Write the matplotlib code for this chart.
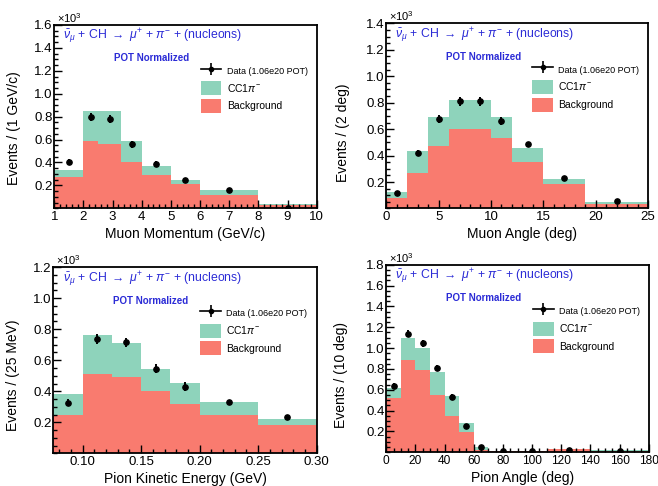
import matplotlib
matplotlib.use("Agg")
import matplotlib.pyplot as plt
import numpy as np
from matplotlib.lines import Line2D
from matplotlib.patches import Patch
from matplotlib.ticker import MultipleLocator

plt.rcParams['font.family'] = ['Liberation Sans', 'DejaVu Sans']
plt.rcParams['mathtext.fontset'] = 'custom'
plt.rcParams['mathtext.rm'] = 'Liberation Sans'
plt.rcParams['mathtext.it'] = 'Liberation Sans:italic'

# ---------------- data (in units of 10^3 events) ----------------
# Muon momentum
mu_p_edges = [1, 2, 2.5, 3.3, 4, 5, 6, 8, 10]
mu_p_bkg = [0.277, 0.586, 0.56, 0.40, 0.29, 0.215, 0.12, 0.03]
mu_p_sig = [0.060, 0.264, 0.29, 0.186, 0.08, 0.035, 0.037, 0.007]
mu_p_data_x = [1.5, 2.25, 2.9, 3.65, 4.5, 5.5, 7, 9]
mu_p_data = [0.405, 0.795, 0.78, 0.557, 0.39, 0.25, 0.163, 0.006]
mu_p_err = [0.025, 0.035, 0.035, 0.03, 0.02, 0.015, 0.01, 0.004]
mu_p_xticks = [1, 2, 3, 4, 5, 6, 7, 8, 9, 10]

# Muon angle
mu_th_edges = [0, 2, 4, 6, 8, 10, 12, 15, 19, 25]
mu_th_bkg = [0.077, 0.27, 0.476, 0.60, 0.60, 0.53, 0.355, 0.183, 0.035]
mu_th_sig = [0.050, 0.165, 0.214, 0.22, 0.22, 0.16, 0.101, 0.040, 0.015]
mu_th_data_x = [1, 3, 5, 7, 9, 11, 13.5, 17, 22]
mu_th_data = [0.115, 0.42, 0.68, 0.81, 0.81, 0.665, 0.486, 0.229, 0.057]
mu_th_err = [0.012, 0.02, 0.03, 0.035, 0.035, 0.03, 0.02, 0.012, 0.006]
mu_th_xticks = [0, 5, 10, 15, 20, 25]

# Pion kinetic energy
pi_t_edges = [0.075, 0.10, 0.125, 0.15, 0.175, 0.20, 0.25, 0.30]
pi_t_bkg = [0.250, 0.513, 0.49, 0.405, 0.318, 0.248, 0.184]
pi_t_sig = [0.134, 0.247, 0.221, 0.140, 0.135, 0.086, 0.038]
pi_t_data_x = [0.0875, 0.1125, 0.1375, 0.1625, 0.1875, 0.225, 0.275]
pi_t_data = [0.328, 0.737, 0.715, 0.545, 0.431, 0.334, 0.237]
pi_t_err = [0.02, 0.035, 0.03, 0.03, 0.03, 0.012, 0.012]
pi_t_xticks = [0.10, 0.15, 0.20, 0.25, 0.30]

# Pion angle
pi_th_edges = [0, 10, 20, 30, 40, 50, 60, 70, 90, 110, 140, 180]
pi_th_bkg = [0.518, 0.886, 0.79, 0.55, 0.348, 0.198, 0.025, 0.008, 0.008, 0.028, 0.015]
pi_th_sig = [0.096, 0.214, 0.21, 0.224, 0.192, 0.080, 0.025, 0.004, 0.004, 0.007, 0.005]
pi_th_data_x = [5, 15, 25, 35, 45, 55, 65, 80, 100, 125, 160]
pi_th_data = [0.636, 1.14, 1.046, 0.806, 0.528, 0.252, 0.054, 0.008, 0.008, 0.025, 0.015]
pi_th_err = [0.03, 0.035, 0.035, 0.03, 0.03, 0.02, 0.01, 0.004, 0.004, 0.006, 0.005]
pi_th_xticks = [0, 20, 40, 60, 80, 100, 120, 140, 160, 180]

# ---------------- style ----------------
C_SIG = '#8ed3bb'
C_BKG = '#f97b6f'
C_TXT = '#2b2bd6'

panels = [
    dict(pos=[0.0825, 0.5714, 0.3988, 0.3772], edges=mu_p_edges, bkg=mu_p_bkg, sig=mu_p_sig,
         dx=mu_p_data_x, dy=mu_p_data, de=mu_p_err, xlim=(1, 10), ylim=(0, 1.6),
         xticks=mu_p_xticks, xmin=0.2, xfmt='%g', xlabel='Muon Momentum (GeV/c)',
         ylabel='Events / (1 GeV/c)', ylc=(-0.125, 0.44), xlc=(0.50, -0.10), xls=9.5),
    dict(pos=[0.587, 0.571, 0.3978, 0.381], edges=mu_th_edges, bkg=mu_th_bkg, sig=mu_th_sig,
         dx=mu_th_data_x, dy=mu_th_data, de=mu_th_err, xlim=(0, 25), ylim=(0, 1.4),
         xticks=mu_th_xticks, xmin=1, xfmt='%g', xlabel='Muon Angle (deg)',
         ylabel='Events / (2 deg)', ylc=(-0.14, 0.41), xlc=(0.52, -0.10), xls=9.5),
    dict(pos=[0.081, 0.0669, 0.4003, 0.3837], edges=pi_t_edges, bkg=pi_t_bkg, sig=pi_t_sig,
         dx=pi_t_data_x, dy=pi_t_data, de=pi_t_err, xlim=(0.075, 0.30), ylim=(0, 1.2),
         xticks=pi_t_xticks, xmin=0.01, xfmt='%.2f', xlabel='Pion Kinetic Energy (GeV)',
         ylabel='Events / (25 MeV)', ylc=(-0.125, 0.42), xlc=(0.50, -0.10), xls=9.5),
    dict(pos=[0.587, 0.0693, 0.399, 0.386], edges=pi_th_edges, bkg=pi_th_bkg, sig=pi_th_sig,
         dx=pi_th_data_x, dy=pi_th_data, de=pi_th_err, xlim=(0, 180), ylim=(0, 1.8),
         xticks=pi_th_xticks, xmin=5, xfmt='%g', xlabel='Pion Angle (deg)',
         ylabel='Events / (10 deg)', ylc=(-0.145, 0.41), xlc=(0.52, -0.10), xls=8.6),
]

fig = plt.figure(figsize=(6.58, 4.86), dpi=100)

for i, p in enumerate(panels):
    ax = fig.add_axes(p['pos'])
    edges = np.array(p['edges'])
    bkg = np.array(p['bkg'])
    sig = np.array(p['sig'])
    ax.stairs(bkg + sig, edges, baseline=bkg, fill=True, color=C_SIG, lw=0)
    ax.stairs(bkg, edges, baseline=0, fill=True, color=C_BKG, lw=0)
    ax.errorbar(p['dx'], p['dy'], yerr=p['de'], fmt='o', color='black', ms=3.8,
                elinewidth=1.4, capsize=0, zorder=5)
    ax.set_xlim(*p['xlim'])
    ax.set_ylim(*p['ylim'])
    ax.set_xticks(p['xticks'])
    ax.set_xticklabels([p['xfmt'] % v for v in p['xticks']])
    ax.xaxis.set_minor_locator(MultipleLocator(p['xmin']))
    ax.yaxis.set_minor_locator(MultipleLocator(0.05))
    yt = np.arange(0.2, p['ylim'][1] + 1e-6, 0.2)
    ax.set_yticks(yt)
    ax.set_yticklabels(['%.1f' % v for v in yt])
    ax.tick_params(which='both', direction='in', top=False, right=False, labelsize=9.5, width=1.0)
    ax.tick_params(axis='x', labelsize=p['xls'])
    ax.tick_params(which='major', length=6)
    ax.tick_params(which='minor', length=3)
    ax.tick_params(axis='x', pad=2)
    ax.tick_params(axis='y', pad=1)
    for s in ax.spines.values():
        s.set_linewidth(1.3)
    ax.set_xlabel(p['xlabel'], fontsize=10)
    ax.set_ylabel(p['ylabel'], fontsize=10)
    ax.yaxis.set_label_coords(*p['ylc'])
    ax.xaxis.set_label_coords(*p['xlc'])
    ax.text(0.01, 1.0, r'$\times$10$^{3}$', transform=ax.transAxes, fontsize=8,
            ha='left', va='bottom')
    ax.text(0.035, 0.935, r'$\bar{\nu}_{\mu}$ + CH $\rightarrow$ $\mu^{+}$ + $\pi^{-}$ + (nucleons)',
            transform=ax.transAxes, color=C_TXT, fontsize=8.8, ha='left', va='center')
    ax.text(0.37, 0.82, 'POT Normalized', transform=ax.transAxes, color=C_TXT,
            fontsize=7, fontweight='bold', ha='center', va='center')
    h_data = (Line2D([], [], color='black', lw=1.2, marker='|', ms=8, mew=1.2),
              Line2D([], [], color='black', lw=0, marker='o', ms=3))
    h_sig = Patch(facecolor=C_SIG, edgecolor='none')
    h_bkg = Patch(facecolor=C_BKG, edgecolor='none')
    leg = ax.legend([h_data, h_sig, h_bkg], ['Data (1.06e20 POT)', r'CC1$\pi^{-}$', 'Background'],
                    loc='upper left', bbox_to_anchor=(0.53, 0.83), frameon=False, fontsize=7.5,
                    handlelength=2.0, handleheight=1.7, labelspacing=0.35, handletextpad=0.5,
                    borderpad=0.2)
    leg.get_texts()[0].set_fontsize(6.5)

fig.savefig('out.png', dpi=100)
